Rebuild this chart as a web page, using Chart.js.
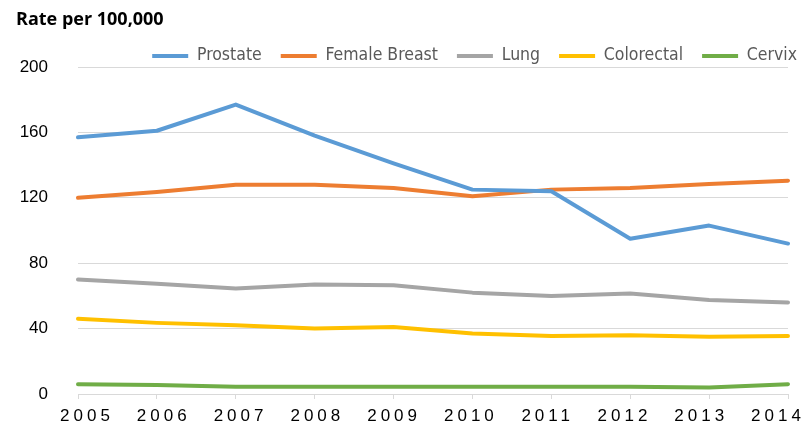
<!DOCTYPE html>
<html>
<head>
<meta charset="utf-8">
<script src="https://cdn.jsdelivr.net/npm/chart.js@4/dist/chart.umd.min.js"></script>
<style>
html,body{margin:0;padding:0;background:#fff;}
#wrap{width:809px;height:428px;position:relative;}
</style>
</head>
<body>
<div id="wrap"><canvas id="c" width="809" height="428"></canvas></div>
<script>
const years = ['2005','2006','2007','2008','2009','2010','2011','2012','2013','2014'];
const prostate = [157,161,177,158,141,125,124,95,103,92];
const femaleBreast = [120,123.5,128,128,126,121,125,126,128.5,130.5];
const lung = [70,67.5,64.5,67,66.5,62,60,61.5,57.5,56];
const colorectal = [46,43.5,42,40,41,37,35.5,36,35,35.5];
const cervix = [6,5.5,4.5,4.5,4.5,4.5,4.5,4.5,4,6];
const seriesNames = ['Prostate','Female Breast','Lung','Colorectal','Cervix'];
const yTicks = [0,40,80,120,160,200];

const colors = ['#5B9BD5','#ED7D31','#A5A5A5','#FFC000','#70AD47'];
const allData = [prostate, femaleBreast, lung, colorectal, cervix];

const layoutPlugin = {
  id: 'tweaks',
  afterLayout(chart){
    const s = chart.scales.x2;
    if (s && !s._patched){
      const orig = s.drawLabels.bind(s);
      s.drawLabels = function(a){
        const ctx = this.ctx; ctx.save(); ctx.letterSpacing = '4px'; orig(a); ctx.restore();
      };
      s._patched = true;
    }
    const lg = chart.legend;
    if (lg){ lg.left += 28; lg.right += 28; }
  }
};

new Chart(document.getElementById('c'), {
  type: 'line',
  data: {
    labels: years,
    datasets: allData.map((d,i)=>({
      label: seriesNames[i],
      data: d,
      borderColor: colors[i],
      backgroundColor: colors[i],
      borderWidth: 4,
      pointRadius: 0,
      tension: 0,
      borderCapStyle: 'round',
      borderJoinStyle: 'round',
      pointStyle: 'line'
    }))
  },
  options: {
    responsive: false,
    animation: false,
    layout: { padding: { left: 16, right: 21, top: 0, bottom: 0 } },
    plugins: {
      title: {
        display: true, text: 'Rate per 100,000', align: 'start',
        color: '#000', font: { family: 'Open Sans', size: 18, weight: 'bold', lineHeight: 1.2 },
        padding: { top: 9.5, bottom: -2.9 }
      },
      legend: {
        position: 'top', align: 'end', maxHeight: 38.8,
        labels: {
          usePointStyle: true, pointStyleWidth: 36, padding: 19,
          color: '#595959', font: { family: 'DejaVu Sans Condensed', size: 17.5 }
        }
      },
      tooltip: { enabled: false }
    },
    scales: {
      x: {
        offset: false,
        afterFit(s){ s.height = 5; },
        grid: { drawOnChartArea: false, drawTicks: true, tickLength: 5, color: '#d9d9d9' },
        border: { display: true, color: '#d9d9d9' },
        ticks: { display: false }
      },
      x2: {
        type: 'linear', position: 'bottom',
        min: 2004.8828, max: 2014.1302,
        afterBuildTicks(s){ s.ticks = years.map(y=>({value:+y})); },
        afterFit(s){ s.height = 29; },
        grid: { display: false, drawTicks: false },
        border: { display: false },
        ticks: {
          color: '#000', font: { family: 'Liberation Sans', size: 17 }, padding: 7, maxRotation: 0,
          autoSkip: false,
          callback: (v)=>String(v)
        }
      },
      y: {
        min: 0, max: 200,
        afterBuildTicks(s){ s.ticks = yTicks.map(v=>({value:v})); },
        afterFit(s){ s.width = 62; },
        grid: { color: '#d9d9d9', drawTicks: true, tickLength: 30, tickColor: 'rgba(0,0,0,0)' },
        border: { display: false },
        ticks: { color: '#000', font: { family: 'Liberation Sans', size: 17 }, padding: 0 }
      }
    }
  },
  plugins: [layoutPlugin]
});
</script>
</body>
</html>
